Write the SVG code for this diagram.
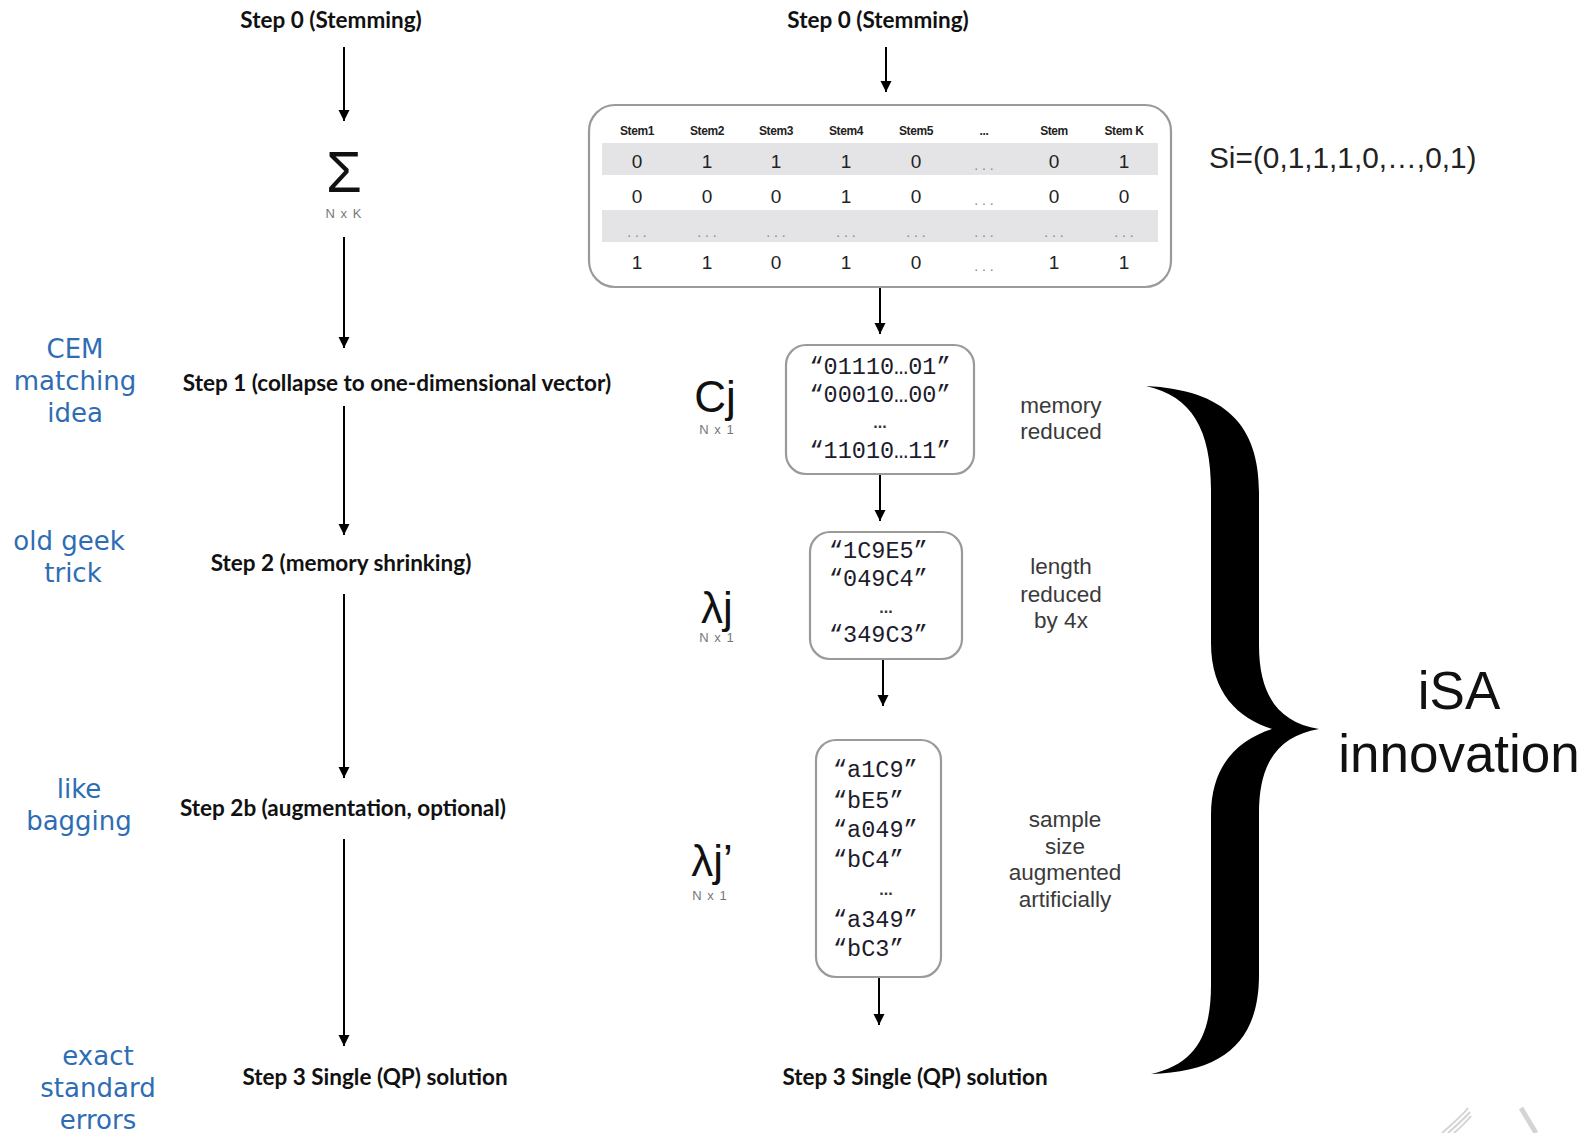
<svg xmlns="http://www.w3.org/2000/svg" width="1583" height="1133" viewBox="0 0 1583 1133">
  <style>
    .step { font-family: Lato, "Liberation Sans", sans-serif; font-weight: 700; font-size: 22.5px; fill: #111; text-anchor: middle; }
    .blue { font-family: "DejaVu Sans", Verdana, sans-serif; font-size: 26px; fill: #2E6DB4; text-anchor: middle; }
    .note { font-family: "Liberation Sans", Arial, sans-serif; font-size: 22.5px; fill: #3a3a3a; text-anchor: middle; }
    .dim { font-family: "Liberation Sans", Arial, sans-serif; font-size: 13px; fill: #777; text-anchor: middle; letter-spacing: 1px; }
    .sym { font-family: "Liberation Sans", Arial, sans-serif; font-size: 44px; fill: #111; text-anchor: middle; }
    .mono { font-family: "Liberation Mono", "Courier New", monospace; font-size: 23.5px; fill: #1c1c2c; }
    .dots { font-family: "Liberation Sans", Arial, sans-serif; font-size: 16px; font-weight: 700; fill: #333; text-anchor: middle; }
    .hdr { font-family: "Liberation Sans", Arial, sans-serif; font-weight: 700; font-size: 12px; fill: #222; text-anchor: middle; letter-spacing: -0.4px; }
    .cell { font-family: "Liberation Sans", Arial, sans-serif; font-size: 19px; fill: #222; text-anchor: middle; }
    .ell { font-family: "Liberation Sans", Arial, sans-serif; font-size: 14px; fill: #888; text-anchor: middle; }
    .box { fill: #fff; stroke: #9a9a9a; stroke-width: 2.2; }
    .conn line { stroke: #000; stroke-width: 2; marker-end: url(#arrow); }
  </style>
  <defs>
    <marker id="arrow" viewBox="0 0 10 10" refX="10" refY="5" markerWidth="11" markerHeight="13" markerUnits="userSpaceOnUse" orient="auto">
      <path d="M0,0 L10,5 L0,10 z" fill="#000"/>
    </marker>
  </defs>
  <rect width="1583" height="1133" fill="#fff"/>

  <!-- left pipeline -->
  <g id="left-step0"><text class="step" x="331" y="28">Step 0 (Stemming)</text></g>
  <g id="left-sigma">
    <text x="344" y="192" font-family="Liberation Sans, Arial, sans-serif" font-size="58" text-anchor="middle" fill="#111">Σ</text>
    <text class="dim" x="344" y="218" font-size="16">N x K</text>
  </g>
  <g id="left-step1"><text class="step" x="397" y="391">Step 1 (collapse to one-dimensional vector)</text></g>
  <g id="left-step2"><text class="step" x="341" y="571">Step 2 (memory shrinking)</text></g>
  <g id="left-step2b"><text class="step" x="343" y="816">Step 2b (augmentation, optional)</text></g>
  <g id="left-step3"><text class="step" x="375" y="1085">Step 3 Single (QP) solution</text></g>

  <!-- side remarks -->
  <g id="remark-cem">
    <text class="blue" x="75" y="358">CEM</text>
    <text class="blue" x="75" y="390">matching</text>
    <text class="blue" x="75" y="422">idea</text>
  </g>
  <g id="remark-geek">
    <text class="blue" x="69" y="550">old geek</text>
    <text class="blue" x="73" y="582">trick</text>
  </g>
  <g id="remark-bagging">
    <text class="blue" x="79" y="798">like</text>
    <text class="blue" x="79" y="830">bagging</text>
  </g>
  <g id="remark-se">
    <text class="blue" x="98" y="1065">exact</text>
    <text class="blue" x="98" y="1097">standard</text>
    <text class="blue" x="98" y="1129">errors</text>
  </g>

  <!-- right pipeline -->
  <g id="right-step0"><text class="step" x="878" y="28">Step 0 (Stemming)</text></g>

  <g id="stem-table">
    <rect class="box" x="589" y="105" width="582" height="182" rx="26"/>
    <g class="hdr">
      <text x="637" y="135">Stem1</text>
      <text x="707" y="135">Stem2</text>
      <text x="776" y="135">Stem3</text>
      <text x="846" y="135">Stem4</text>
      <text x="916" y="135">Stem5</text>
      <text x="984" y="135">...</text>
      <text x="1054" y="135">Stem</text>
      <text x="1054" y="146">...</text>
      <text x="1124" y="135">Stem K</text>
    </g>
    <rect x="602" y="143" width="556" height="32" fill="#e4e4e6"/>
    <rect x="602" y="210" width="556" height="32" fill="#e4e4e6"/>
    <g class="cell">
      <text x="637" y="168">0</text><text x="707" y="168">1</text><text x="776" y="168">1</text><text x="846" y="168">1</text><text x="916" y="168">0</text><text class="ell" x="984" y="170">. . .</text><text x="1054" y="168">0</text><text x="1124" y="168">1</text>
      <text x="637" y="203">0</text><text x="707" y="203">0</text><text x="776" y="203">0</text><text x="846" y="203">1</text><text x="916" y="203">0</text><text class="ell" x="984" y="205">. . .</text><text x="1054" y="203">0</text><text x="1124" y="203">0</text>
      <text class="ell" x="637" y="237">. . .</text><text class="ell" x="707" y="237">. . .</text><text class="ell" x="776" y="237">. . .</text><text class="ell" x="846" y="237">. . .</text><text class="ell" x="916" y="237">. . .</text><text class="ell" x="984" y="237">. . .</text><text class="ell" x="1054" y="237">. . .</text><text class="ell" x="1124" y="237">. . .</text>
      <text x="637" y="269">1</text><text x="707" y="269">1</text><text x="776" y="269">0</text><text x="846" y="269">1</text><text x="916" y="269">0</text><text class="ell" x="984" y="271">. . .</text><text x="1054" y="269">1</text><text x="1124" y="269">1</text>
    </g>
  </g>
  <g id="si-vector">
    <text x="1209" y="168" font-family="Liberation Sans, Arial, sans-serif" font-size="29.8" fill="#222">Si=(0,1,1,1,0,…,0,1)</text>
  </g>

  <g id="cj-box">
    <rect class="box" x="786" y="345" width="188" height="129" rx="20"/>
    <g class="mono" text-anchor="middle">
      <text x="880" y="374">“01110…01”</text>
      <text x="880" y="402">“00010…00”</text>
      <text x="880" y="458">“11010…11”</text>
    </g>
    <text class="dots" x="880" y="428">...</text>
  </g>
  <g id="cj-label">
    <text class="sym" x="715" y="412">Cj</text>
    <text class="dim" x="717" y="434">N x 1</text>
  </g>
  <g id="cj-note">
    <text class="note" x="1061" y="413">memory</text>
    <text class="note" x="1061" y="439">reduced</text>
  </g>

  <g id="lambda-box">
    <rect class="box" x="810" y="532" width="152" height="127" rx="20"/>
    <g class="mono">
      <text x="829" y="558">“1C9E5”</text>
      <text x="829" y="586">“049C4”</text>
      <text x="829" y="642">“349C3”</text>
    </g>
    <text class="dots" x="886" y="613">...</text>
  </g>
  <g id="lambda-label">
    <text class="sym" x="717" y="623">λj</text>
    <text class="dim" x="717" y="642">N x 1</text>
  </g>
  <g id="lambda-note">
    <text class="note" x="1061" y="574">length</text>
    <text class="note" x="1061" y="602">reduced</text>
    <text class="note" x="1061" y="628">by 4x</text>
  </g>

  <g id="lambda-aug-box">
    <rect class="box" x="816" y="740" width="125" height="237" rx="20"/>
    <g class="mono">
      <text x="833" y="777">“a1C9”</text>
      <text x="833" y="808">“bE5”</text>
      <text x="833" y="837">“a049”</text>
      <text x="833" y="867">“bC4”</text>
      <text x="833" y="927">“a349”</text>
      <text x="833" y="956">“bC3”</text>
    </g>
    <text class="dots" x="886" y="895">...</text>
  </g>
  <g id="lambda-aug-label">
    <text class="sym" x="712" y="876">λj’</text>
    <text class="dim" x="710" y="900">N x 1</text>
  </g>
  <g id="lambda-aug-note">
    <text class="note" x="1065" y="827">sample</text>
    <text class="note" x="1065" y="854">size</text>
    <text class="note" x="1065" y="880">augmented</text>
    <text class="note" x="1065" y="907">artificially</text>
  </g>

  <g id="right-step3"><text class="step" x="915" y="1085">Step 3 Single (QP) solution</text></g>

  <!-- curly brace grouping the iSA steps -->
  <g id="isa-brace">
    <path fill="#000" d="M1146,386 C1225,390 1259,425 1259,492 L1259,645 C1259,695 1278,722 1319,729 C1278,736 1259,763 1259,813 L1259,975 C1259,1040 1225,1072 1151,1074 C1196,1064 1211,1035 1211,985 L1211,815 C1211,765 1238,740 1272,729 C1238,718 1211,693 1211,643 L1211,490 C1211,430 1192,396 1146,386 Z"/>
  </g>
  <g id="isa-title">
    <text x="1459" y="709" font-family="Liberation Sans, Arial, sans-serif" font-size="53" fill="#111" text-anchor="middle">iSA</text>
    <text x="1459" y="772" font-family="Liberation Sans, Arial, sans-serif" font-size="53" fill="#111" text-anchor="middle">innovation</text>
  </g>

  <!-- faint corner mark -->
  <g id="corner-mark" fill="none" stroke="#d4d4d4" stroke-width="2">
    <path d="M1442,1133 C1452,1124 1462,1116 1468,1108"/>
    <path d="M1448,1133 C1457,1125 1465,1118 1470,1112"/>
    <path d="M1454,1133 C1461,1127 1467,1121 1471,1116"/>
    <path d="M1521,1108 L1536,1133" stroke-width="5"/>
  </g>

  <!-- connectors -->
  <g id="connectors" class="conn">
    <line x1="344" y1="47" x2="344" y2="121"/>
    <line x1="344" y1="237" x2="344" y2="348"/>
    <line x1="344" y1="406" x2="344" y2="535"/>
    <line x1="344" y1="594" x2="344" y2="778"/>
    <line x1="344" y1="839" x2="344" y2="1046"/>
    <line x1="886" y1="47" x2="886" y2="92"/>
    <line x1="880" y1="288" x2="880" y2="334"/>
    <line x1="880" y1="475" x2="880" y2="521"/>
    <line x1="883" y1="660" x2="883" y2="706"/>
    <line x1="879" y1="978" x2="879" y2="1025"/>
  </g>
</svg>
